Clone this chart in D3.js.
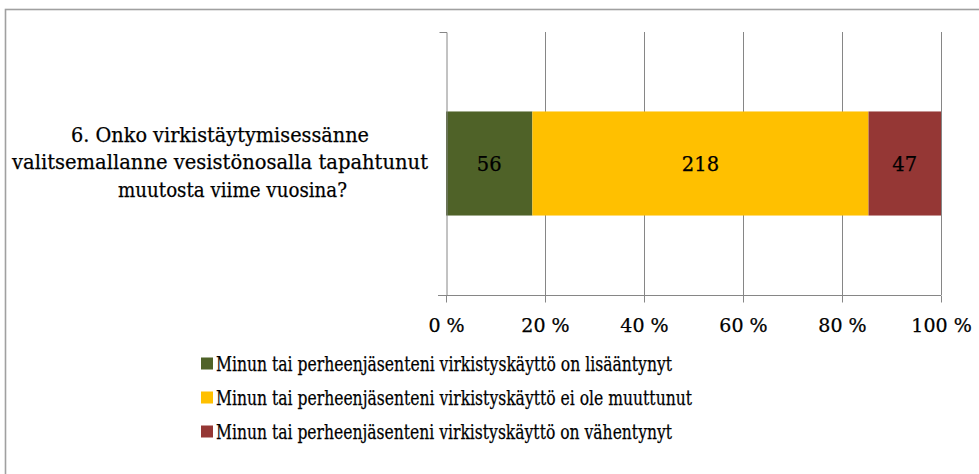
<!DOCTYPE html>
<html>
<head>
<meta charset="utf-8">
<script src="https://cdn.jsdelivr.net/npm/d3@7"></script>
<style>
  html, body { margin: 0; padding: 0; background: #fff; }
  svg { display: block; }
  text { font-family: "DejaVu Serif", "Liberation Serif", serif; fill: #000; stroke: #000; stroke-width: 0.25px; }
</style>
</head>
<body>
<svg id="chart" width="979" height="474"></svg>
<script>
// ---- data ----
const categories = ["6. Onko virkistäytymisessänne valitsemallanne vesistönosalla tapahtunut muutosta viime vuosina?"];
const titleLines = ["6. Onko virkistäytymisessänne", "valitsemallanne vesistönosalla tapahtunut", "muutosta viime vuosina?"];
const seriesNames = [
  "Minun tai perheenjäsenteni virkistyskäyttö on lisääntynyt",
  "Minun tai perheenjäsenteni virkistyskäyttö ei ole muuttunut",
  "Minun tai perheenjäsenteni virkistyskäyttö on vähentynyt"
];
const seriesValues = [56, 218, 47];
const seriesColors = ["#4F6228", "#FFC000", "#953735"];
const tickValues = [0, 0.2, 0.4, 0.6, 0.8, 1.0];
const tickLabels = ["0 %", "20 %", "40 %", "60 %", "80 %", "100 %"];

// ---- layout ----
const svg = d3.select("#chart");
const axisColor = "#868686";

// outer frame
svg.append("rect")
  .attr("x", 5.5).attr("y", 9.5).attr("width", 1000).attr("height", 500)
  .attr("fill", "none").attr("stroke", "#a0a0a0").attr("stroke-width", 1.6);

const x = d3.scaleLinear().domain([0, 1]).range([446, 941]);
const y = d3.scaleBand().domain(categories).range([32, 295]).paddingInner(0.433).paddingOuter(0.433);

// gridlines
svg.append("g").selectAll("line").data(tickValues.slice(1)).join("line")
  .attr("x1", d => Math.round(x(d)) + 0.5).attr("x2", d => Math.round(x(d)) + 0.5)
  .attr("y1", y.range()[0]).attr("y2", y.range()[1])
  .attr("stroke", axisColor).attr("stroke-width", 1);

// stacked bar (100%)
const total = d3.sum(seriesValues);
let acc = 0;
const segs = seriesValues.map((v, i) => {
  const s = { start: acc / total, end: (acc + v) / total, value: v, color: seriesColors[i] };
  acc += v;
  return s;
});
const cat = categories[0];
svg.append("g").selectAll("rect").data(segs).join("rect")
  .attr("x", d => x(d.start)).attr("width", d => x(d.end) - x(d.start))
  .attr("y", y(cat)).attr("height", y.bandwidth())
  .attr("fill", d => d.color);

svg.append("g").selectAll("text").data(segs).join("text")
  .attr("x", d => (x(d.start) + x(d.end)) / 2)
  .attr("y", y(cat) + y.bandwidth() / 2 + 7)
  .attr("text-anchor", "middle")
  .style("font-size", "19.5px")
  .text(d => d.value);

// x axis
const xAxis = d3.axisBottom(x).tickValues(tickValues)
  .tickFormat((d, i) => tickLabels[i]).tickSizeInner(7).tickSizeOuter(0).tickPadding(16);
const gx = svg.append("g").attr("transform", `translate(0,${y.range()[1] + 0.5})`).call(xAxis);
gx.select(".domain").attr("stroke", axisColor).attr("d", `M${x(0) - 8},0H${x(1)}`);
gx.selectAll(".tick line").attr("stroke", axisColor);
gx.selectAll(".tick text").style("font-size", "19px").style("font-family", "DejaVu Serif")
  .attr("fill", "#000").attr("stroke", "#000").attr("stroke-width", 0.25);

// y axis
const yAxis = d3.axisLeft(y).tickSizeInner(0).tickSizeOuter(7).tickFormat("");
const gy = svg.append("g").attr("transform", `translate(${Math.round(x(0)) + 0.5},0)`).call(yAxis);
gy.select(".domain").attr("stroke", axisColor);
gy.selectAll(".tick").remove();

// category label (wrapped)
const titleStarts = [71, 12, 118];
const titleWidths = [298, 416, 229];
const titleY0 = y(cat) + y.bandwidth() / 2 - 22;
svg.append("g").selectAll("text").data(titleLines).join("text")
  .attr("x", (d, i) => titleStarts[i])
  .attr("y", (d, i) => titleY0 + i * 27.5)
  .attr("textLength", (d, i) => titleWidths[i])
  .attr("lengthAdjust", "spacingAndGlyphs")
  .style("font-size", "20px")
  .text(d => d);

// legend
const legendWidths = [456, 476, 456];
const lg = svg.append("g").selectAll("g").data(seriesNames).join("g")
  .attr("transform", (d, i) => `translate(201,${371 + i * 34})`);
lg.append("rect").attr("x", 0).attr("y", -13.5).attr("width", 12).attr("height", 12)
  .attr("fill", (d, i) => seriesColors[i]).attr("stroke", "none");
lg.append("text").attr("x", 15).attr("y", 0)
  .attr("textLength", (d, i) => legendWidths[i])
  .attr("lengthAdjust", "spacingAndGlyphs")
  .style("font-size", "20.5px")
  .text(d => d);
</script>
</body>
</html>
